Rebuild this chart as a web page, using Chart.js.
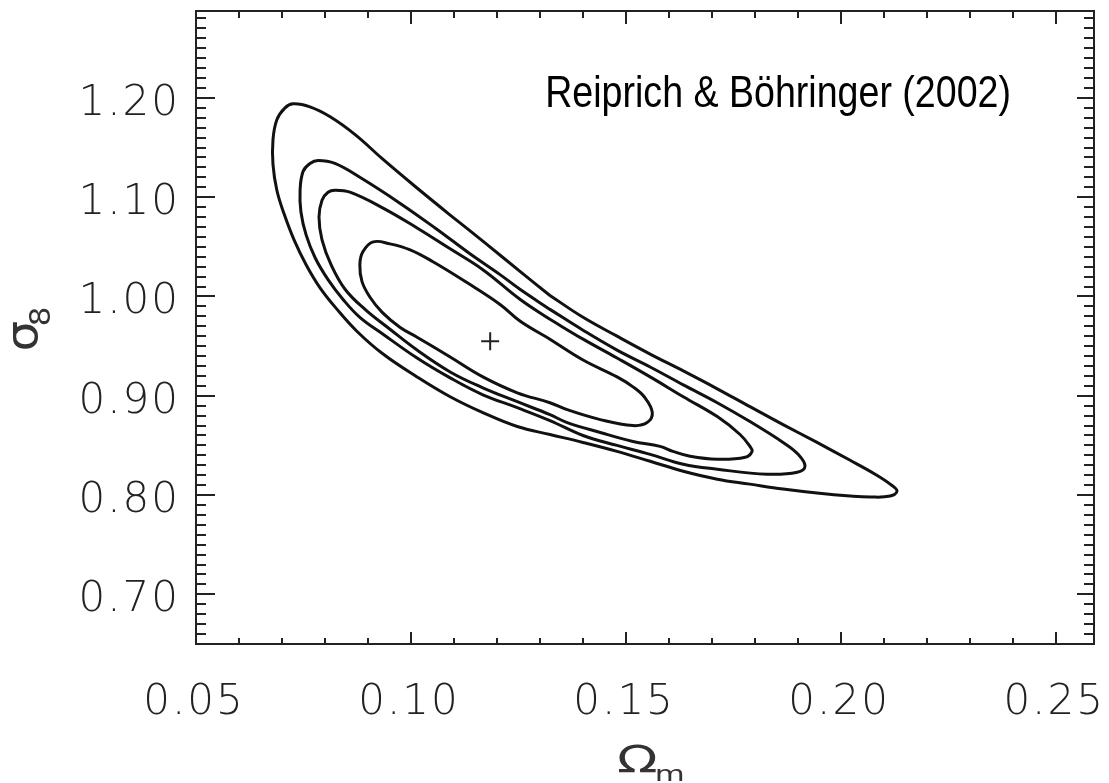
<!DOCTYPE html>
<html>
<head>
<meta charset="utf-8">
<script src="https://cdn.jsdelivr.net/npm/chart.js@4.4.1/dist/chart.umd.min.js"></script>
<style>
html,body{margin:0;padding:0;background:#fff;}
#wrap{width:1109px;height:783px;}
</style>
</head>
<body>
<div id="wrap"><canvas id="c" width="1109" height="783"></canvas></div>
<script>
// ---- axis ranges / ticks ----
const xRange = [0.05, 0.2588];
const yRange = [0.65, 1.2875];
const xTickStep = 0.05, xMinorStep = 0.01;
const yTickStep = 0.10, yMinorStep = 0.01;

// ---- contours (Omega_m, sigma_8), outermost A to innermost D ----
const contourAX = [0.1323,0.1400,0.1479,0.1556,0.1633,0.1712,0.1788,0.1865,0.1944,0.2021,0.2079,0.2114,0.2130,
  0.2114,0.2067,0.2021,0.1944,0.1865,0.1788,0.1712,0.1633,0.1556,0.1479,0.1400,0.1323,0.1247,0.1167,0.1091,0.1014,
  0.0935,0.0874,0.0828,0.0788,0.0756,0.0728,0.0705,0.0688,0.0679,0.0679,0.0688,0.0707,
  0.0726,0.0765,0.0812,0.0870,0.0935,0.1009,0.1091,0.1172,0.1254,0.1323];
const contourAY = [1.001,0.979,0.960,0.942,0.925,0.907,0.889,0.871,0.853,0.835,0.821,0.811,0.804,
  0.799,0.798,0.799,0.802,0.806,0.811,0.816,0.824,0.834,0.844,0.853,0.861,0.869,0.883,0.899,0.919,
  0.942,0.965,0.987,1.009,1.032,1.057,1.083,1.107,1.133,1.158,1.178,1.190,
  1.194,1.191,1.181,1.163,1.138,1.111,1.082,1.054,1.025,1.001];

const contourBX = [0.1323,0.1400,0.1479,0.1556,0.1633,0.1712,0.1788,0.1865,0.1900,0.1916,
  0.1898,0.1828,0.1712,0.1633,0.1556,0.1479,0.1400,0.1323,0.1247,0.1167,
  0.1091,0.1014,0.0935,0.0881,0.0842,0.0807,0.0777,0.0756,0.0744,0.0742,0.0749,0.0765,
  0.0784,0.0823,0.0881,0.0974,0.1056,0.1137,0.1207,0.1254,0.1323];
const contourBY = [0.987,0.966,0.946,0.929,0.911,0.893,0.874,0.853,0.841,0.829,
  0.823,0.821,0.826,0.831,0.841,0.850,0.860,0.875,0.888,0.901,
  0.918,0.938,0.962,0.979,0.997,1.017,1.039,1.062,1.085,1.107,1.126,1.134,
  1.137,1.134,1.120,1.094,1.069,1.043,1.022,1.007,0.987];

const contourCX = [0.1323,0.1400,0.1479,0.1556,0.1633,0.1712,0.1765,0.1788,0.1793,
  0.1777,0.1712,0.1649,0.1609,0.1579,0.1516,0.1440,0.1363,0.1323,0.1247,
  0.1167,0.1091,0.1014,0.0951,0.0893,0.0847,0.0814,0.0793,0.0786,0.0793,0.0807,
  0.0823,0.0858,0.0935,0.1014,0.1091,0.1167,0.1254,0.1323];
const contourCY = [0.977,0.957,0.938,0.919,0.899,0.879,0.861,0.849,0.844,
  0.838,0.836,0.839,0.844,0.849,0.854,0.863,0.873,0.881,0.894,
  0.908,0.924,0.946,0.967,0.987,1.007,1.032,1.057,1.080,1.097,1.105,
  1.107,1.105,1.089,1.069,1.048,1.027,0.997,0.977];

const contourDX = [0.1323,0.1400,0.1479,0.1516,0.1544,0.1561,
  0.1549,0.1516,0.1440,0.1363,0.1323,0.1247,0.1167,0.1091,0.1014,0.0974,
  0.0933,0.0905,0.0886,0.0881,0.0888,
  0.0912,0.0951,0.0998,0.1051,0.1130,0.1207,0.1254,0.1323];
const contourDY = [0.957,0.936,0.919,0.909,0.898,0.883,
  0.873,0.870,0.876,0.886,0.893,0.903,0.919,0.939,0.959,0.969,
  0.984,0.999,1.015,1.032,1.045,
  1.055,1.053,1.047,1.035,1.014,0.992,0.975,0.957];

// best fit
const bestFitX = [0.1184];
const bestFitY = [0.955];

// annotation
const noteText = 'Reiprich & Böhringer (2002)';
const notePos = [0.1312, 1.191];

const toPts = (xs, ys) => xs.map((x, i) => ({x: x, y: ys[i]}));

const contourStyle = {
  showLine: true, fill: false, borderColor: '#111', borderWidth: 3,
  pointRadius: 0, pointHoverRadius: 0, tension: 0.4
};

const zeroPad = s => { s.paddingTop = 0; s.paddingBottom = 0; s.paddingLeft = 0; s.paddingRight = 0; };

const axisPlugin = {
  id: 'axisDecor',
  beforeDraw(chart) { chart.ctx.letterSpacing = '2px'; },
  beforeDatasetsDraw(chart) { chart.ctx.letterSpacing = '0px'; },
  afterDraw(chart) {
    const {ctx, chartArea: {left, right, top, bottom}, scales: {x, y}} = chart;
    ctx.save();
    ctx.letterSpacing = '0px';
    ctx.strokeStyle = '#222';
    ctx.lineWidth = 2;
    const seg = (a, b, c, d) => { ctx.beginPath(); ctx.moveTo(a, b); ctx.lineTo(c, d); ctx.stroke(); };
    // x ticks (inward, bottom and top)
    for (let i = 0; ; i++) {
      const v = xRange[0] + i * xMinorStep;
      if (v > x.max + 1e-9) break;
      const major = Math.abs(v / xTickStep - Math.round(v / xTickStep)) < 1e-6;
      const px = Math.round(x.getPixelForValue(v));
      seg(px, bottom, px, bottom - (major ? 12 : 6));
      seg(px, top, px, top + (major ? 13 : 7));
    }
    // y ticks (inward, left and right)
    for (let i = 0; ; i++) {
      const v = yRange[0] + i * yMinorStep;
      if (v > y.max + 1e-9) break;
      const major = Math.abs(v / yTickStep - Math.round(v / yTickStep)) < 1e-6;
      const py = Math.round(y.getPixelForValue(v));
      seg(left, py, left + (major ? 19 : 10), py);
      seg(right, py, right - (major ? 17 : 10), py);
    }
    // annotation
    ctx.fillStyle = '#000';
    ctx.save();
    ctx.translate(x.getPixelForValue(notePos[0]), y.getPixelForValue(notePos[1]));
    ctx.scale(0.835, 1);
    ctx.font = '45px "Liberation Sans", sans-serif';
    ctx.textAlign = 'left';
    ctx.textBaseline = 'alphabetic';
    ctx.fillText(noteText, 0, 0);
    ctx.restore();
    // x title: Omega_m
    const cx = (left + right) / 2;
    ctx.fillStyle = '#333';
    ctx.textAlign = 'left';
    ctx.textBaseline = 'alphabetic';
    ctx.save();
    ctx.translate(cx - 28, bottom + 128);
    ctx.scale(1.4, 1);
    ctx.font = '38px "DejaVu Sans"';
    ctx.fillText('Ω', 0, 0);
    ctx.font = '22px "DejaVu Sans"';
    ctx.fillText('m', 27, 9);
    ctx.restore();
    // y title: sigma_8
    const cy = (top + bottom) / 2;
    ctx.save();
    ctx.translate(left - 159, cy + 24);
    ctx.rotate(-Math.PI / 2);
    ctx.scale(1.1, 1);
    ctx.font = '44px "DejaVu Sans"';
    ctx.fillText('σ', 0, 0);
    ctx.font = '28px "DejaVu Sans"';
    ctx.fillText('8', 23, 13);
    ctx.restore();
    ctx.restore();
  }
};

const tickFont = {family: '"DejaVu Sans", sans-serif', size: 42, weight: '300'};

new Chart(document.getElementById('c'), {
  type: 'scatter',
  data: {
    datasets: [
      Object.assign({label: 'A', data: toPts(contourAX, contourAY)}, contourStyle),
      Object.assign({label: 'B', data: toPts(contourBX, contourBY)}, contourStyle),
      Object.assign({label: 'C', data: toPts(contourCX, contourCY)}, contourStyle),
      Object.assign({label: 'D', data: toPts(contourDX, contourDY)}, contourStyle),
      {label: 'best fit', data: toPts(bestFitX, bestFitY), pointStyle: 'cross', pointRadius: 9,
       borderColor: '#222', borderWidth: 2, showLine: false}
    ]
  },
  options: {
    responsive: false,
    animation: false,
    events: [],
    layout: {autoPadding: false, padding: {top: 11, right: 15, left: 0, bottom: 0}},
    plugins: {legend: {display: false}, tooltip: {enabled: false}},
    scales: {
      x: {
        type: 'linear', position: 'bottom', min: xRange[0], max: xRange[1],
        ticks: {stepSize: xTickStep, includeBounds: false, autoSkip: false, maxRotation: 0,
                callback: v => v.toFixed(2), font: tickFont, color: '#222', padding: 34, labelOffset: -2},
        grid: {display: false, drawTicks: false},
        border: {display: true, color: '#222', width: 2},
        afterFit: s => { s.height = 139; zeroPad(s); }
      },
      y: {
        type: 'linear', position: 'left', min: yRange[0], max: yRange[1],
        ticks: {stepSize: yTickStep, includeBounds: false, autoSkip: false,
                callback: v => v.toFixed(2), font: tickFont, color: '#222', padding: 16, labelOffset: 6},
        grid: {display: false, drawTicks: false},
        border: {display: true, color: '#222', width: 2},
        afterFit: s => { s.width = 196; zeroPad(s); }
      },
      x2: {
        type: 'linear', position: 'top', min: xRange[0], max: xRange[1],
        ticks: {display: false}, grid: {display: false, drawTicks: false},
        border: {display: true, color: '#222', width: 2},
        afterFit: s => { s.height = 0; zeroPad(s); }
      },
      y2: {
        type: 'linear', position: 'right', min: yRange[0], max: yRange[1],
        ticks: {display: false}, grid: {display: false, drawTicks: false},
        border: {display: true, color: '#222', width: 2},
        afterFit: s => { s.width = 0; zeroPad(s); }
      }
    }
  },
  plugins: [axisPlugin]
});
</script>
</body>
</html>
